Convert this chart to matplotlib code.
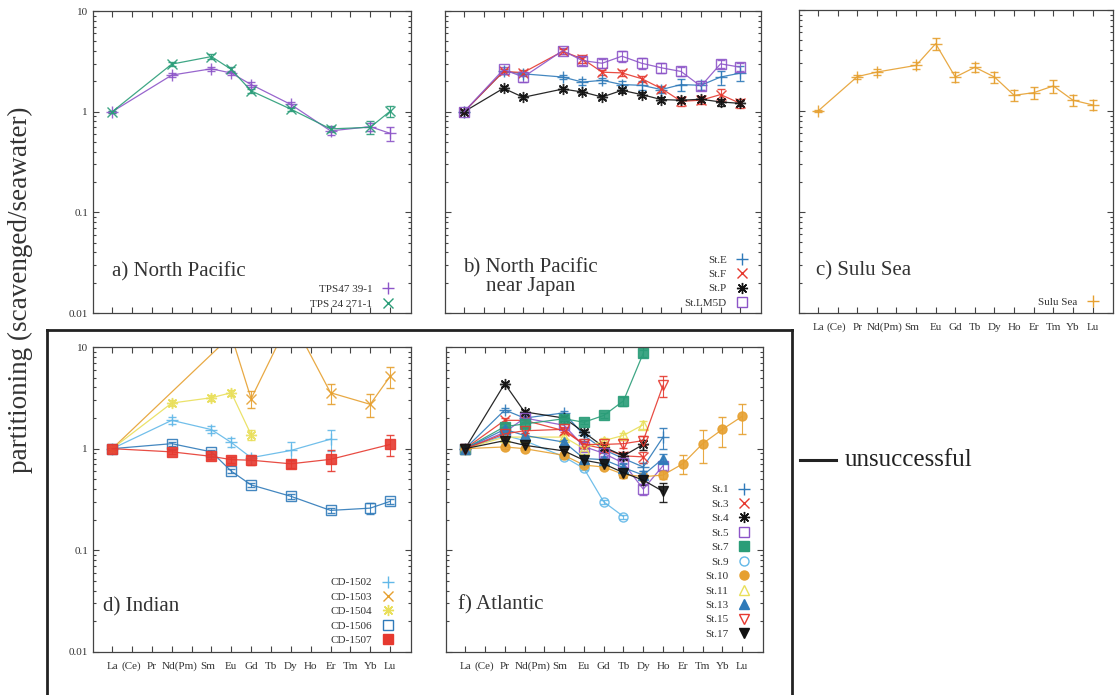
import matplotlib
matplotlib.use('Agg')
import matplotlib.pyplot as plt
from matplotlib.lines import Line2D
from matplotlib.ticker import NullFormatter

plt.rcParams['font.family'] = ['Liberation Serif', 'DejaVu Serif']

N = None

# x axis: La .. Lu (15 slots incl. Ce and Pm)
ree_pos = list(range(15))
lab_pos = [0, 0.95, 2, 3.4, 4.8, 6, 7, 8, 9, 10, 11, 12, 13, 14]
lab_txt = ['La', '(Ce)', 'Pr', 'Nd(Pm)', 'Sm', 'Eu', 'Gd', 'Tb', 'Dy', 'Ho', 'Er', 'Tm', 'Yb', 'Lu']

# a) North Pacific
tps47 = [1.0, N, N, 2.31, N, 2.67, 2.42, 1.86, N, 1.18, N, 0.645, N, 0.71, 0.61]
tps47_err = [0.02, N, N, 0.1, N, 0.12, 0.1, 0.12, N, 0.06, N, 0.06, N, 0.07, 0.1]
tps24 = [1.0, N, N, 2.97, N, 3.53, 2.63, 1.61, N, 1.06, N, 0.675, N, 0.70, 1.01]
tps24_err = [0.02, N, N, 0.15, N, 0.2, 0.15, 0.08, N, 0.04, N, 0.04, N, 0.1, 0.13]

# b) North Pacific near Japan
ste = [1.0, N, 2.51, 2.38, N, 2.21, 1.97, 2.05, 1.86, 1.83, 1.66, 1.86, 1.83, 2.21, 2.42]
ste_err = [0.03, N, 0.15, 0.1, N, 0.12, 0.12, 0.1, 0.15, 0.2, 0.12, 0.25, 0.2, 0.35, 0.4]
stf = [1.0, N, 2.51, 2.45, N, 3.98, 3.35, 2.47, 2.43, 2.13, 1.70, 1.27, 1.30, 1.48, 1.21]
stf_err = [0.03, N, 0.12, 0.15, N, 0.25, 0.3, 0.15, 0.15, 0.15, 0.12, 0.12, 0.12, 0.2, 0.12]
stp = [1.0, N, 1.71, 1.39, N, 1.68, 1.57, 1.40, 1.63, 1.48, 1.32, 1.30, 1.33, 1.25, 1.21]
stp_err = [0.03, N, 0.08, 0.06, N, 0.08, 0.08, 0.06, 0.1, 0.08, 0.08, 0.08, 0.08, 0.1, 0.08]
stlm = [1.0, N, 2.63, 2.21, N, 4.04, 3.22, 3.03, 3.56, 3.03, 2.73, 2.51, 1.79, 2.99, 2.77]
stlm_err = [0.03, N, 0.15, 0.25, N, 0.3, 0.3, 0.3, 0.45, 0.35, 0.3, 0.25, 0.15, 0.3, 0.25]

# c) Sulu Sea
sulu = [1.0, N, 2.19, 2.43, N, 2.83, 4.64, 2.17, 2.71, 2.17, 1.43, 1.52, 1.77, 1.28, 1.15]
sulu_err = [0.02, N, 0.1, 0.15, N, 0.2, 0.65, 0.25, 0.3, 0.28, 0.18, 0.2, 0.25, 0.17, 0.13]

# d) Indian
cd1502 = [1.0, N, N, 1.90, N, 1.54, 1.15, 0.815, N, 0.96, N, 1.24, N, N, N]
cd1502_err = [0.02, N, N, 0.15, N, 0.12, 0.12, 0.05, N, 0.2, N, 0.3, N, N, N]
cd1503 = [1.0, N, N, N, N, N, 13.0, 3.1, N, 19.5, N, 3.55, N, 2.73, 5.14]
cd1503_err = [0.02, N, N, N, N, N, 1.0, 0.6, N, 2.0, N, 0.8, N, 0.7, 1.2]
cd1504 = [1.0, N, N, 2.81, N, 3.17, 3.55, 1.37, N, N, N, N, N, N, N]
cd1504_err = [0.02, N, N, 0.2, N, 0.2, 0.25, 0.15, N, N, N, N, N, N, N]
cd1506 = [1.0, N, N, 1.12, N, 0.93, 0.60, 0.44, N, 0.34, N, 0.247, N, 0.26, 0.303]
cd1506_err = [0.02, N, N, 0.05, N, 0.04, 0.03, 0.02, N, 0.02, N, 0.015, N, 0.03, 0.02]
cd1507 = [1.0, N, N, 0.93, N, 0.84, 0.78, 0.77, N, 0.71, N, 0.785, N, N, 1.10]
cd1507_err = [0.02, N, N, 0.05, N, 0.05, 0.05, 0.08, N, 0.06, N, 0.18, N, N, 0.25]

# f) Atlantic
st1 = [1.0, N, 2.40, 2.0, N, 2.25, 1.35, 0.98, 0.80, 0.66, 1.30, N, N, N, N]
st1_err = [0.02, N, 0.12, 0.1, N, 0.12, 0.1, 0.08, 0.08, 0.06, 0.3, N, N, N, N]
st3 = [1.0, N, 1.90, 1.90, N, 1.50, 1.10, 1.0, 0.85, 0.83, N, N, N, N, N]
st3_err = [0.02, N, 0.1, 0.1, N, 0.1, 0.08, 0.08, 0.08, 0.1, N, N, N, N, N]
st4 = [1.0, N, 4.36, 2.30, N, 2.0, 1.45, 1.04, 0.85, 1.1, N, N, N, N, N]
st4_err = [0.02, N, 0.2, 0.1, N, 0.1, 0.08, 0.06, 0.06, 0.12, N, N, N, N, N]
st5 = [1.0, N, 1.45, 2.0, N, 1.7, 1.05, 0.9, 0.72, 0.40, 0.68, N, N, N, N]
st5_err = [0.02, N, 0.08, 0.1, N, 0.1, 0.06, 0.06, 0.06, 0.05, 0.06, N, N, N, N]
st7 = [1.0, N, 1.65, 1.75, N, 1.97, 1.82, 2.12, 2.95, 8.7, N, N, N, N, N]
st7_err = [0.02, N, 0.08, 0.1, N, 0.1, 0.08, 0.12, 0.3, 0.7, N, N, N, N, N]
st9 = [1.0, N, 1.35, 1.2, N, 0.83, 0.64, 0.30, 0.215, N, N, N, N, N, N]
st9_err = [0.02, N, 0.06, 0.05, N, 0.04, 0.03, 0.015, 0.01, N, N, N, N, N, N]
st10 = [1.0, N, 1.04, 1.0, N, 0.86, 0.69, 0.66, 0.56, 0.53, 0.55, 0.71, 1.12, 1.55, 2.08]
st10_err = [0.02, N, 0.04, 0.04, N, 0.04, 0.03, 0.03, 0.04, 0.04, 0.05, 0.15, 0.4, 0.5, 0.7]
st11 = [1.0, N, 1.3, 1.3, N, 1.3, 1.0, 1.2, 1.35, 1.72, N, N, N, N, N]
st11_err = [0.02, N, 0.06, 0.06, N, 0.06, 0.05, 0.06, 0.08, 0.15, N, N, N, N, N]
st13 = [1.0, N, 1.55, 1.35, N, 1.16, 0.8, 0.78, 0.65, 0.55, 0.80, N, N, N, N]
st13_err = [0.02, N, 0.08, 0.06, N, 0.06, 0.05, 0.05, 0.05, 0.05, 0.08, N, N, N, N]
st15 = [1.0, N, 1.4, 1.5, N, 1.55, 1.1, 1.1, 1.12, 1.2, 4.2, N, N, N, N]
st15_err = [0.02, N, 0.08, 0.08, N, 0.08, 0.06, 0.06, 0.1, 0.12, 1.0, N, N, N, N]
st17 = [1.0, N, 1.2, 1.08, N, 0.95, 0.77, 0.71, 0.58, 0.49, 0.38, N, N, N, N]
st17_err = [0.02, N, 0.05, 0.05, N, 0.04, 0.04, 0.04, 0.05, 0.05, 0.08, N, N, N, N]

# gnuplot-like colours (slightly washed, as in the scan)
PURPLE = '#8d55c8'
GREEN = '#2a9d78'
SKY = '#62b8e8'
ORANGE = '#e6a030'
YELLOW = '#e9df5a'
BLUE = '#2f7ab9'
RED = '#e6392f'
BLACK = '#111111'
ASTER = (8, 2, 0)

MS = {'+': 8, 'x': 7, ASTER: 8, 's': 6.5, 'o': 6.5, '^': 6.5, 'v': 6.5}


def draw(ax, vals, errs, color, marker, filled=False):
    xs = [i for i, v in enumerate(vals) if v is not None]
    ys = [vals[i] for i in xs]
    es = [errs[i] for i in xs]
    ax.errorbar(xs, ys, yerr=es, color=color, lw=0.9, elinewidth=0.8,
                capsize=3, capthick=0.8, marker=marker, ms=MS[marker],
                mfc=color if filled else 'none', mec=color, mew=1.0,
                alpha=0.9)


def key(ax, entries, anchor):
    handles = []
    for name, color, marker, filled in entries:
        handles.append(Line2D([], [], ls='none', marker=marker, color=color,
                              ms=MS[marker], mec=color, mew=1.0,
                              mfc=color if filled else 'none', label=name))
    ax.legend(handles=handles, loc='lower right', bbox_to_anchor=anchor,
              frameon=False, markerfirst=False, fontsize=8, handlelength=1.0,
              handletextpad=0.9, labelspacing=0.42, borderpad=0,
              borderaxespad=0, labelcolor='#333333')


def setup(ax, ylab=False, xlab=False):
    ax.set_yscale('log')
    ax.set_ylim(0.01, 10)
    ax.set_xlim(-0.97, 15.05)
    ax.set_yticks([0.01, 0.1, 1, 10], ['0.01', '0.1', '1', '10'])
    ax.yaxis.set_minor_formatter(NullFormatter())
    ax.set_xticks(ree_pos, [''] * 15)
    ax.xaxis.remove_overlapping_locs = False
    if xlab:
        ax.set_xticks(lab_pos, lab_txt, minor=True)
    ax.tick_params(which='both', direction='in', top=True, right=True,
                   color='#444444', width=0.8, labelsize=8,
                   labelcolor='#333333', labelleft=ylab)
    ax.tick_params(which='major', length=4.5)
    ax.tick_params(which='minor', length=2.5)
    ax.tick_params(axis='x', which='minor', length=0, pad=7)
    for s in ax.spines.values():
        s.set_color('#444444')
        s.set_linewidth(0.9)


fig = plt.figure(figsize=(11.16, 6.95), dpi=100)
ax_a = fig.add_axes([0.0833, 0.5496, 0.2849, 0.4345])
ax_b = fig.add_axes([0.3987, 0.5496, 0.2832, 0.4345])
ax_c = fig.add_axes([0.7160, 0.5496, 0.2814, 0.4360])
ax_d = fig.add_axes([0.0833, 0.0619, 0.2849, 0.4388])
ax_f = fig.add_axes([0.3996, 0.0619, 0.2841, 0.4388])

setup(ax_a, ylab=True)
setup(ax_b)
setup(ax_c, xlab=True)
setup(ax_d, ylab=True, xlab=True)
setup(ax_f, xlab=True)

# a
draw(ax_a, tps47, tps47_err, PURPLE, '+')
draw(ax_a, tps24, tps24_err, GREEN, 'x')
key(ax_a, [('TPS47 39-1', PURPLE, '+', False),
           ('TPS 24 271-1', GREEN, 'x', False)], (0.945, 0.014))
ax_a.text(0.06, 0.17, 'a) North Pacific', transform=ax_a.transAxes,
          fontsize=15, va='top', ha='left', color='#333333')

# b
draw(ax_b, ste, ste_err, BLUE, '+')
draw(ax_b, stf, stf_err, RED, 'x')
draw(ax_b, stp, stp_err, BLACK, ASTER)
draw(ax_b, stlm, stlm_err, PURPLE, 's')
key(ax_b, [('St.E', BLUE, '+', False), ('St.F', RED, 'x', False),
           ('St.P', BLACK, ASTER, False), ('St.LM5D', PURPLE, 's', False)],
    (0.958, 0.017))
ax_b.text(0.057, 0.182, 'b) North Pacific\nnear Japan', transform=ax_b.transAxes,
          fontsize=15, va='top', ha='left', multialignment='center',
          color='#333333', linespacing=1.0)

# c
draw(ax_c, sulu, sulu_err, ORANGE, '+')
key(ax_c, [('Sulu Sea', ORANGE, '+', False)], (0.954, 0.019))
ax_c.text(0.054, 0.17, 'c) Sulu Sea', transform=ax_c.transAxes,
          fontsize=15, va='top', ha='left', color='#333333')

# d
draw(ax_d, cd1502, cd1502_err, SKY, '+')
draw(ax_d, cd1503, cd1503_err, ORANGE, 'x')
draw(ax_d, cd1504, cd1504_err, YELLOW, ASTER)
draw(ax_d, cd1506, cd1506_err, BLUE, 's')
draw(ax_d, cd1507, cd1507_err, RED, 's', filled=True)
key(ax_d, [('CD-1502', SKY, '+', False), ('CD-1503', ORANGE, 'x', False),
           ('CD-1504', YELLOW, ASTER, False), ('CD-1506', BLUE, 's', False),
           ('CD-1507', RED, 's', True)], (0.944, 0.022))
ax_d.text(0.03, 0.181, 'd) Indian', transform=ax_d.transAxes,
          fontsize=15, va='top', ha='left', color='#333333')

# f
f_series = [
    ('St.1', st1, st1_err, BLUE, '+', False),
    ('St.3', st3, st3_err, RED, 'x', False),
    ('St.4', st4, st4_err, BLACK, ASTER, False),
    ('St.5', st5, st5_err, PURPLE, 's', False),
    ('St.7', st7, st7_err, GREEN, 's', True),
    ('St.9', st9, st9_err, SKY, 'o', False),
    ('St.10', st10, st10_err, ORANGE, 'o', True),
    ('St.11', st11, st11_err, YELLOW, '^', False),
    ('St.13', st13, st13_err, BLUE, '^', True),
    ('St.15', st15, st15_err, RED, 'v', False),
    ('St.17', st17, st17_err, BLACK, 'v', True),
]
for name, v, e, c, m, fl in f_series:
    draw(ax_f, v, e, c, m, fl)
key(ax_f, [(s[0], s[3], s[4], s[5]) for s in f_series], (0.958, 0.043))
ax_f.text(0.038, 0.187, 'f) Atlantic', transform=ax_f.transAxes,
          fontsize=15, va='top', ha='left', color='#333333')

# shared y label
fig.text(0.018, 0.583, 'partitioning (scavenged/seawater)', rotation=90,
         fontsize=19.5, va='center', ha='center', color='#333333')

# box around the unsuccessful panels
box_x0, box_x1, box_y = 47 / 1116, 792 / 1116, 1 - 330 / 695
fig.add_artist(Line2D([box_x0, box_x1], [box_y, box_y], color='#222222', lw=2))
fig.add_artist(Line2D([box_x0, box_x0], [0, box_y], color='#222222', lw=2))
fig.add_artist(Line2D([box_x1, box_x1], [0, box_y], color='#222222', lw=2))
fig.add_artist(Line2D([800 / 1116, 836 / 1116], [0.3381, 0.3381], color='#222222', lw=2.2))
fig.text(0.757, 0.3381, 'unsuccessful', fontsize=18, va='center', ha='left',
         color='#222222')

fig.savefig('out.png', dpi=100)
